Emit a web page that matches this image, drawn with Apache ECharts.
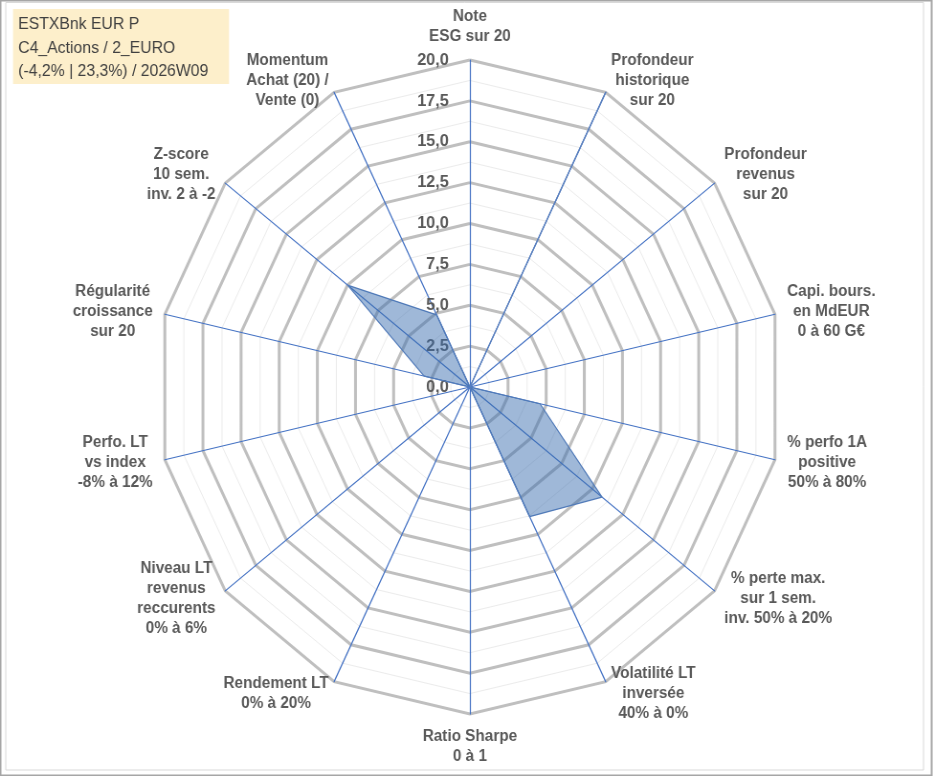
<!DOCTYPE html>
<html lang="fr">
<head>
<meta charset="UTF-8">
<title>Radar ESTXBnk EUR P</title>
<script src="https://cdn.jsdelivr.net/npm/echarts@6/dist/echarts.min.js"></script>
<style>
    html, body { margin: 0; padding: 0; background: #fff; overflow: hidden; }
    /* the source picture is slightly squeezed horizontally, so the chart is too */
    #main { width: 975px; height: 776px; transform: scaleX(0.957); transform-origin: 0 0; }
</style>
</head>
<body>
<div id="main"></div>
<script>
    // indicators, clockwise from the top
    var axisNames = [
        'Note\nESG sur 20',
        'Profondeur\nhistorique\nsur 20',
        'Profondeur\nrevenus\nsur 20',
        'Capi. bours.\nen MdEUR\n0 à 60 G€',
        '% perfo 1A\npositive\n50% à 80%',
        '% perte max.\nsur 1 sem.\ninv. 50% à 20%',
        'Volatilité LT\ninversée\n40% à 0%',
        'Ratio Sharpe\n0 à 1',
        'Rendement LT\n0% à 20%',
        'Niveau LT\nrevenus\nreccurents\n0% à 6%',
        'Perfo. LT\nvs index\n-8% à 12%',
        'Régularité\ncroissance\nsur 20',
        'Z-score\n10 sem.\ninv. 2 à -2',
        'Momentum\nAchat (20) /\nVente (0)'
    ];
    var scores = [0, 20, 0, 0, 4.6, 10.8, 8.8, 0, 0, 0, 0, 3, 10, 4.9];
    var scaleMax = 20;
    var titleLines = ['ESTXBnk EUR P', 'C4_Actions / 2_EURO', '(-4,2% | 23,3%) / 2026W09'];

    // echarts lays radar axes out counter-clockwise: keep the first, reverse the rest
    function ccw(a) { return [a[0]].concat(a.slice(1).reverse()); }

    var indicators = ccw(axisNames).map(function (n, i) {
        var ind = { name: n, min: 0, max: scaleMax };
        if (i > 0) ind.axisLabel = { show: false };
        return ind;
    });
    var plainIndicators = axisNames.map(function () { return { name: '', min: 0, max: scaleMax }; });

    var center = [491, 387];
    var radius = 327;

    var myChart = echarts.init(document.getElementById('main'));
    var option = {
        animation: false,
        backgroundColor: '#fff',
        graphic: [
            { type: 'rect', shape: { x: 0.5, y: 0.5, width: 973, height: 775 },
              style: { fill: 'none', stroke: '#a6a6a6', lineWidth: 2 } },
            { type: 'rect', shape: { x: 6, y: 2.5, width: 959, height: 767.5 },
              style: { fill: 'none', stroke: '#d9d9d9', lineWidth: 1 } },
            { type: 'rect', shape: { x: 13.6, y: 9, width: 225.7, height: 75 },
              style: { fill: '#fdefcb' } },
            { type: 'text', left: 19, top: 13,
              style: { text: titleLines.join('\n'), fill: '#404040', font: '16.5px "Liberation Sans", Arial, sans-serif', lineHeight: 23.5 } }
        ],
        radar: [
            {
                // faint minor rings
                center: center,
                radius: radius,
                shape: 'polygon',
                splitNumber: 16,
                indicator: plainIndicators,
                axisName: { show: false },
                axisLine: { show: false },
                axisTick: { show: false },
                splitArea: { show: false },
                splitLine: { lineStyle: { color: '#ececec', width: 1 } }
            },
            {
                center: center,
                radius: radius,
                shape: 'polygon',
                splitNumber: 8,
                nameGap: 13,
                indicator: indicators,
                axisName: {
                    formatter: function (name) {
                        return name.split('\n').map(function (s) { return '{c|' + s + '}'; }).join('\n');
                    },
                    rich: {
                        c: {
                            align: 'center',
                            color: '#595959',
                            fontSize: 16,
                            fontWeight: 'bold',
                            fontFamily: '"Liberation Sans", Arial, sans-serif',
                            lineHeight: 20
                        }
                    }
                },
                axisLabel: {
                    show: true,
                    margin: 22,
                    color: '#595959',
                    fontSize: 17,
                    fontWeight: 'bold',
                    fontFamily: '"Liberation Sans", Arial, sans-serif',
                    formatter: function (v) { return v.toFixed(1).replace('.', ','); }
                },
                axisTick: { show: false },
                axisLine: { lineStyle: { color: '#4472c4', width: 1.2 } },
                splitArea: { show: false },
                splitLine: { lineStyle: { color: '#bfbfbf', width: 3 } }
            }
        ],
        series: [{
            type: 'radar',
            radarIndex: 1,
            symbol: 'none',
            lineStyle: { color: '#5a80bd', width: 1.2 },
            areaStyle: { color: 'rgba(60,110,175,0.7)' },
            data: [{ value: ccw(scores), name: 'ESTXBnk EUR P' }]
        }]
    };
    myChart.setOption(option);
</script>
</body>
</html>
